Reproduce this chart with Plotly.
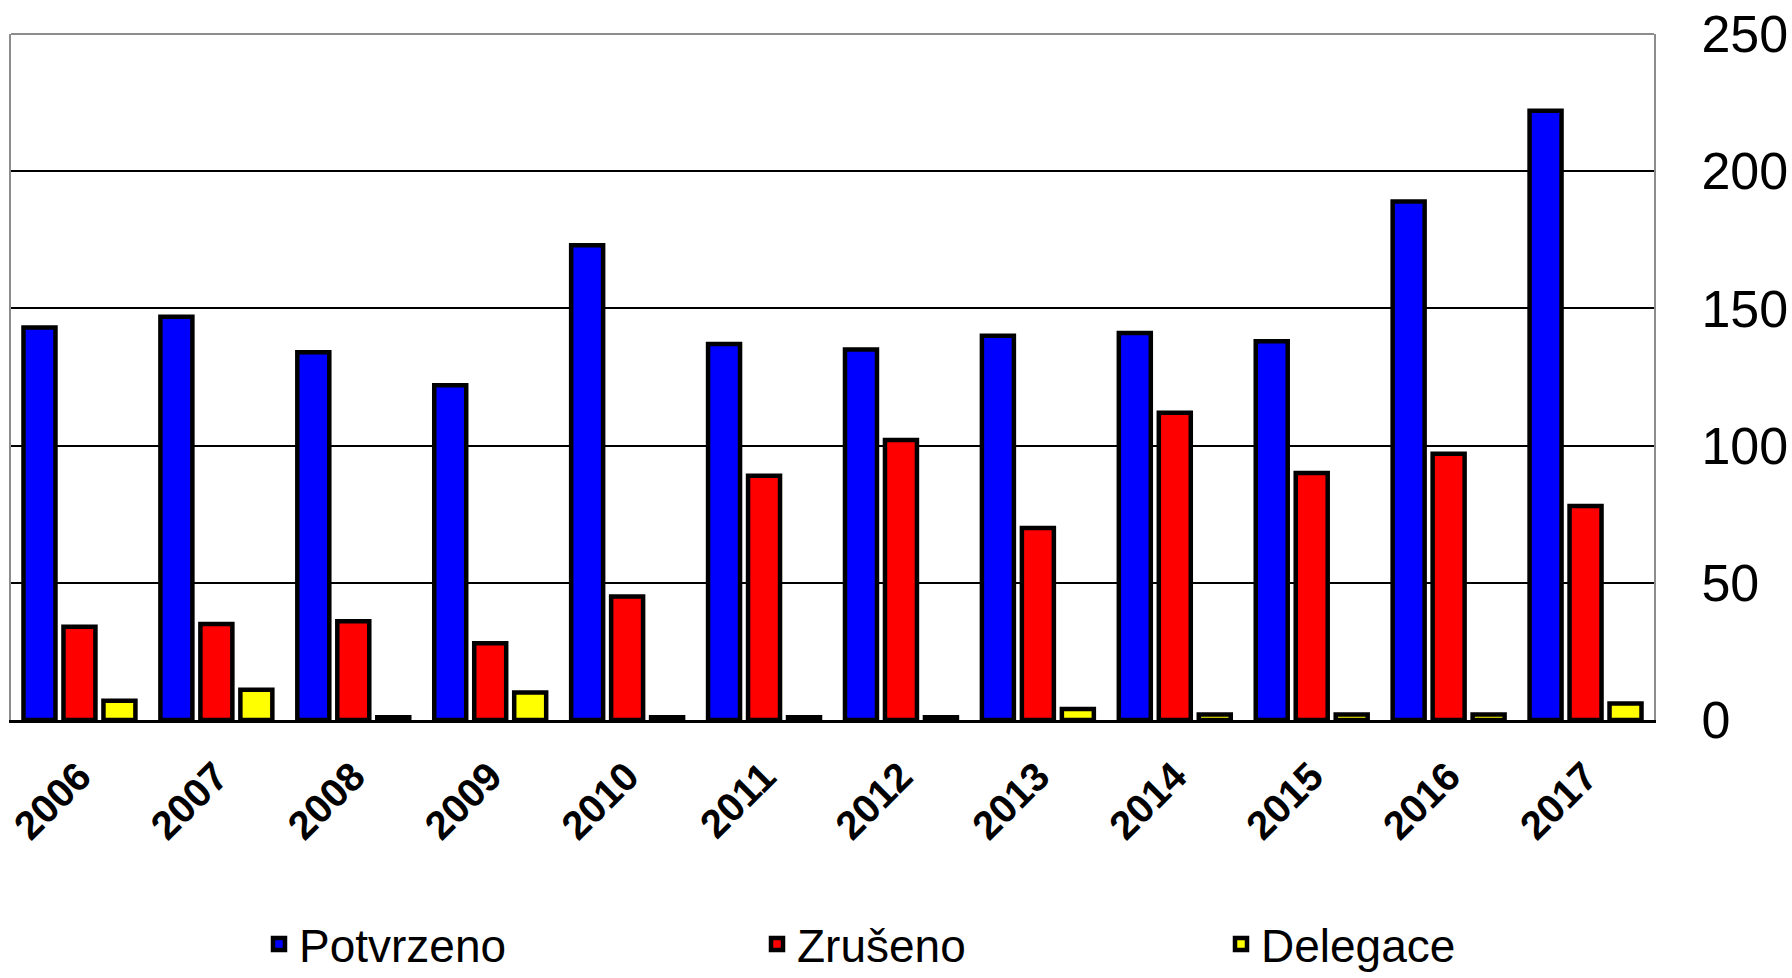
import plotly.graph_objects as go

years = ["2006", "2007", "2008", "2009", "2010", "2011",
         "2012", "2013", "2014", "2015", "2016", "2017"]
potvrzeno = [143, 147, 134, 122, 173, 137, 135, 140, 141, 138, 189, 222]
zruseno = [34, 35, 36, 28, 45, 89, 102, 70, 112, 90, 97, 78]
delegace = [7, 11, 1, 10, 1, 1, 1, 4, 2, 2, 2, 6]

series_names = ["Potvrzeno", "Zrušeno", "Delegace"]
series_colors = ["#0000FF", "#FF0000", "#FFFF00"]
series_values = [potvrzeno, zruseno, delegace]
legend_ids = ["legend", "legend2", "legend3"]

W, H = 1792, 978
FONT = "Liberation Sans, Arial, sans-serif"

fig = go.Figure()
for name, color, vals, lg in zip(series_names, series_colors, series_values, legend_ids):
    fig.add_trace(go.Bar(
        x=years, y=vals, name=name, legend=lg, showlegend=True,
        marker=dict(color=color, line=dict(color="black", width=4.5)),
    ))

legend_text_x = [299, 797, 1261]
legend_common = dict(
    xref="container", yref="container", xanchor="left", yanchor="middle",
    y=(H - 944) / H, orientation="h", bgcolor="rgba(0,0,0,0)",
    font=dict(family=FONT, size=46, color="black"), borderwidth=0,
    visible=True,
)

fig.update_layout(
    width=W, height=H, autosize=False, showlegend=True,
    paper_bgcolor="white", plot_bgcolor="white",
    margin=dict(l=11, r=138, t=34, b=258, pad=0, autoexpand=False),
    barmode="group", bargap=0.124, bargroupgap=0.2,
    font=dict(family=FONT, color="black"),
    legend=dict(x=(legend_text_x[0] - 40) / W, **legend_common),
    legend2=dict(x=(legend_text_x[1] - 40) / W, **legend_common),
    legend3=dict(x=(legend_text_x[2] - 40) / W, **legend_common),
    xaxis=dict(
        type="category", showgrid=False, zeroline=False, automargin=False,
        showline=True, linecolor="black", linewidth=3,
        ticks="", tickangle=-45, ticklabelstandoff=14,
        tickfont=dict(family=FONT, size=40, color="black", weight="bold"),
    ),
    yaxis=dict(
        side="right", range=[0, 250], dtick=50, tick0=0, automargin=False,
        showgrid=True, gridcolor="black", gridwidth=2,
        zeroline=False, showline=True, linecolor="#8c8c8c", linewidth=2, mirror=True,
        ticks="", ticklabelstandoff=35,
        tickfont=dict(family=FONT, size=52, color="black"),
    ),
    shapes=[dict(type="line", xref="paper", yref="paper", x0=0, x1=1, y0=1, y1=1,
                 line=dict(color="#8c8c8c", width=2), layer="above")],
)

fig.write_html("out.html", config={"displayModeBar": False},
               post_script="document.body.style.margin='0';")
